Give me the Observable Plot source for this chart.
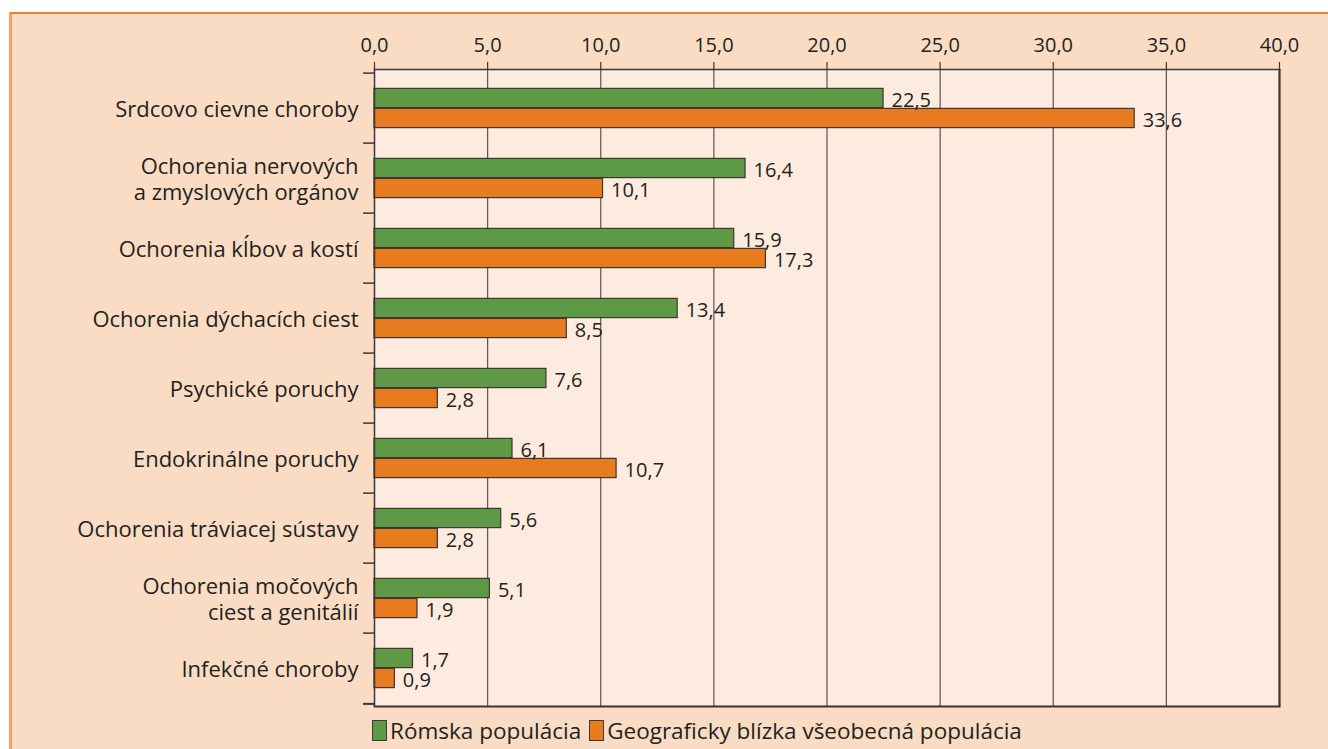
<!DOCTYPE html>
<html>
<head>
<meta charset="utf-8">
<script src="https://cdn.jsdelivr.net/npm/d3@7"></script>
<script src="https://cdn.jsdelivr.net/npm/@observablehq/plot@0.6"></script>
<style>
  html, body { margin: 0; padding: 0; background: #ffffff; width: 1328px; height: 749px; overflow: hidden; }
  #panel { position: absolute; left: 9px; top: 12px; width: 1400px; height: 800px; background: #FADCC4;
           border-top: 2px solid #EE7D2F; border-left: 3px solid #F4A064; box-sizing: border-box; }
  #chart { position: absolute; left: 0; top: 0; }
  #legend { position: absolute; left: 372px; top: 715px; display: flex; align-items: center;
            font-family: "Open Sans", sans-serif; font-size: 22.5px; color: #231F20; white-space: nowrap; }
  .sw { display: inline-block; width: 13px; height: 19px; border: 1px solid #3a3a3a; margin-right: 3px; }
  .item { display: flex; align-items: center; margin-right: 8px; }
</style>
</head>
<body>
<div id="panel"></div>
<div id="chart"></div>
<div id="legend"></div>
<script>
const categories = [
  "Srdcovo cievne choroby",
  "Ochorenia nervových\na zmyslových orgánov",
  "Ochorenia kĺbov a kostí",
  "Ochorenia dýchacích ciest",
  "Psychické poruchy",
  "Endokrinálne poruchy",
  "Ochorenia tráviacej sústavy",
  "Ochorenia močových\nciest a genitálií",
  "Infekčné choroby"
];
const seriesNames = ["Rómska populácia", "Geograficky blízka všeobecná populácia"];
const romaValues = [22.5, 16.4, 15.9, 13.4, 7.6, 6.1, 5.6, 5.1, 1.7];
const generalValues = [33.6, 10.1, 17.3, 8.5, 2.8, 10.7, 2.8, 1.9, 0.9];
const xTicks = [0, 5, 10, 15, 20, 25, 30, 35, 40];
const colors = ["#5E9A46", "#E87B1E"];

const roma = categories.map((c, i) => ({category: c, value: romaValues[i]}));
const general = categories.map((c, i) => ({category: c, value: generalValues[i]}));
const fmt = v => v.toFixed(1).replace(".", ",");

const W = 1328, H = 712;
const mTop = 69, mBottom = 6;
const band = (H - mTop - mBottom) / categories.length;
const pad = (band - 40) / 2;
const ink = "#231F20";
const lineC = "#3d3535";

const chart = Plot.plot({
  width: W,
  height: H,
  marginLeft: 374,
  marginRight: 49,
  marginTop: mTop,
  marginBottom: mBottom,
  style: {background: "transparent", fontFamily: "Open Sans, sans-serif", color: ink},
  x: {domain: [0, 40], axis: null, label: null},
  y: {domain: categories, padding: 0, axis: null, label: null},
  marks: [
    Plot.frame({fill: "#FDEBDF", stroke: "none"}),
    Plot.ruleX(xTicks.filter(t => t > 0 && t < 40), {stroke: "#5a5252", strokeWidth: 1.2}),
    Plot.barX(roma, {x: "value", y: "category", fill: colors[0], stroke: lineC, strokeWidth: 1.2,
      insetTop: pad, insetBottom: pad + 20}),
    Plot.barX(general, {x: "value", y: "category", fill: colors[1], stroke: lineC, strokeWidth: 1.2,
      insetTop: pad + 20, insetBottom: pad}),
    Plot.ruleX([0], {stroke: lineC, strokeWidth: 1.5}),
    Plot.ruleX([40], {stroke: lineC, strokeWidth: 2.2}),
    Plot.frame({anchor: "top", stroke: lineC, strokeWidth: 1.5}),
    Plot.frame({anchor: "bottom", stroke: lineC, strokeWidth: 2}),
    Plot.ruleY(categories, {y: d => d, x1: 0, x2: 0, insetLeft: -11, dy: -band / 2, stroke: lineC, strokeWidth: 1.5}),
    Plot.ruleY(categories.slice(-1), {y: d => d, x1: 0, x2: 0, insetLeft: -11, dy: band / 2, stroke: lineC, strokeWidth: 2}),
    Plot.axisX(xTicks, {anchor: "top", label: null, tickSize: 8, tickPadding: 10, tickFormat: fmt, fontSize: 20,
      stroke: lineC, strokeWidth: 1.2, color: ink}),
    Plot.text(categories, {x: 0, y: d => d, text: d => d, textAnchor: "end", dx: -16, fontSize: 22,
      lineHeight: 1.2, fill: ink}),
    Plot.text(roma, {x: "value", y: "category", text: d => fmt(d.value), textAnchor: "start",
      dx: 8, dy: -8, fontSize: 20, fill: ink}),
    Plot.text(general, {x: "value", y: "category", text: d => fmt(d.value), textAnchor: "start",
      dx: 8, dy: 12, fontSize: 20, fill: ink})
  ]
});
document.getElementById("chart").appendChild(chart);

const legend = document.getElementById("legend");
seriesNames.forEach((name, i) => {
  const item = document.createElement("div");
  item.className = "item";
  const sw = document.createElement("span");
  sw.className = "sw";
  sw.style.background = colors[i];
  const t = document.createElement("span");
  t.textContent = name;
  item.appendChild(sw);
  item.appendChild(t);
  legend.appendChild(item);
});
</script>
</body>
</html>
